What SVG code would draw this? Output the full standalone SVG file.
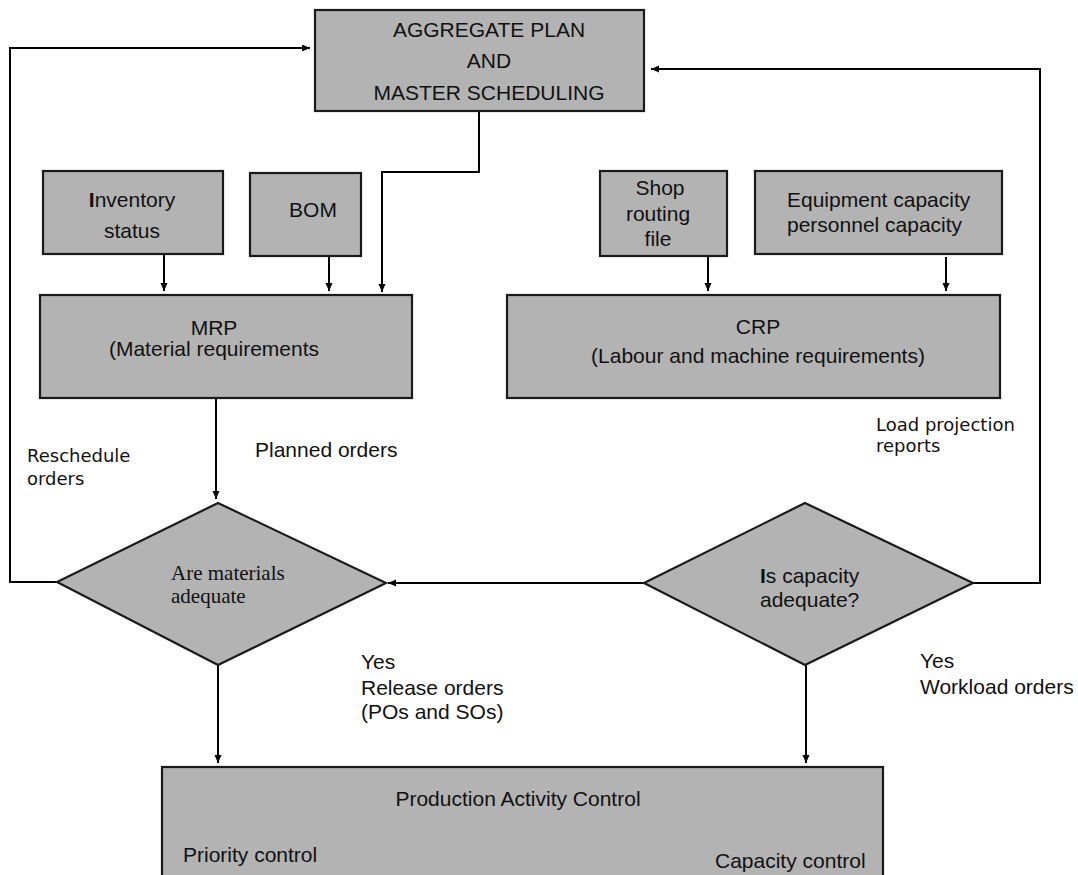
<svg xmlns="http://www.w3.org/2000/svg" width="1078" height="875" viewBox="0 0 1078 875">
<style>
.box{fill:#b3b3b3;stroke:#1a1a1a;stroke-width:2.2}
.t{font-family:"Liberation Sans",Arial,sans-serif;font-size:21px;fill:#111}
.c{text-anchor:middle}
.v{font-family:"DejaVu Sans",Verdana,sans-serif;font-size:18px;fill:#111}
.s{font-family:"Liberation Serif","Times New Roman",serif;font-size:21px;fill:#111}
.ln{fill:none;stroke:#000;stroke-width:2}
</style>
<defs>
<marker id="ah" markerUnits="userSpaceOnUse" markerWidth="8" markerHeight="8" refX="8" refY="3.5" orient="auto">
<path d="M0,0 L8,3.5 L0,7 z" fill="#000"/>
</marker>
</defs>
<rect width="1078" height="875" fill="#fff"/>
<g id="connectors">
<polyline class="ln" points="57,582 10,582 10,48 310,48" marker-end="url(#ah)"/>
<polyline class="ln" points="973,583 1040,583 1040,69 651,69" marker-end="url(#ah)"/>
<polyline class="ln" points="479,111 479,172 382,172 382,292" marker-end="url(#ah)"/>
<line class="ln" x1="164" y1="254" x2="164" y2="291" marker-end="url(#ah)"/>
<line class="ln" x1="329" y1="256" x2="329" y2="291" marker-end="url(#ah)"/>
<line class="ln" x1="708" y1="256" x2="708" y2="291" marker-end="url(#ah)"/>
<line class="ln" x1="946" y1="257" x2="946" y2="291" marker-end="url(#ah)"/>
<line class="ln" x1="216" y1="398" x2="216" y2="499" marker-end="url(#ah)"/>
<line class="ln" x1="644" y1="583" x2="388" y2="583" marker-end="url(#ah)"/>
<line class="ln" x1="218" y1="665" x2="218" y2="763" marker-end="url(#ah)"/>
<line class="ln" x1="806" y1="665" x2="806" y2="763" marker-end="url(#ah)"/>
</g>
<g id="aggregate">
<rect class="box" x="315" y="10" width="329" height="101"/>
<text class="t c" x="489" y="37">AGGREGATE PLAN</text>
<text class="t c" x="489" y="68">AND</text>
<text class="t c" x="489" y="100">MASTER SCHEDULING</text>
</g>
<g id="inventory">
<rect class="box" x="43" y="171" width="180" height="83"/>
<text class="t c" x="132" y="207"><tspan font-weight="bold">I</tspan>nventory</text>
<text class="t c" x="132" y="238">status</text>
</g>
<g id="bom">
<rect class="box" x="250" y="173" width="111" height="83"/>
<text class="t c" x="313" y="217">BOM</text>
</g>
<g id="shop">
<rect class="box" x="600" y="171" width="127" height="85"/>
<text class="t c" x="660" y="195">Shop</text>
<text class="t c" x="658" y="221">routing</text>
<text class="t c" x="658" y="246">file</text>
</g>
<g id="equipment">
<rect class="box" x="755" y="171" width="247" height="83"/>
<text class="t" x="787" y="207">Equipment capacity</text>
<text class="t" x="787" y="232">personnel capacity</text>
</g>
<g id="mrp">
<rect class="box" x="40" y="295" width="372" height="103"/>
<text class="t c" x="214" y="335">MRP</text>
<text class="t c" x="214" y="356">(Material requirements</text>
</g>
<g id="crp">
<rect class="box" x="507" y="295" width="493" height="103"/>
<text class="t c" x="758" y="334">CRP</text>
<text class="t c" x="758" y="363">(Labour and machine requirements)</text>
</g>
<g id="materials">
<polygon class="box" points="218,503 386,583 218,665 57,582"/>
<text class="s" x="171" y="580">Are materials</text>
<text class="s" x="171" y="603">adequate</text>
</g>
<g id="capacity">
<polygon class="box" points="805,503 973,583 805,665 644,583"/>
<text class="t" x="760" y="583"><tspan font-weight="bold">I</tspan>s capacity</text>
<text class="t" x="760" y="607">adequate?</text>
</g>
<g id="pac">
<rect class="box" x="162" y="767" width="721" height="130"/>
<text class="t c" x="518" y="806">Production Activity Control</text>
<text class="t" x="183" y="862">Priority control</text>
<text class="t" x="715" y="868">Capacity control</text>
</g>
<g id="labels">
<text class="v" x="27" y="462">Reschedule</text>
<text class="v" x="27" y="485">orders</text>
<text class="t" x="255" y="457">Planned orders</text>
<text class="v" x="876" y="431">Load projection</text>
<text class="v" x="876" y="452">reports</text>
<text class="t" x="361" y="669" font-size="20">Yes</text>
<text class="t" x="361" y="695" font-size="20">Release orders</text>
<text class="t" x="361" y="719" font-size="20">(POs and SOs)</text>
<text class="t" x="920" y="668">Yes</text>
<text class="t" x="920" y="694">Workload orders</text>
</g>
</svg>
